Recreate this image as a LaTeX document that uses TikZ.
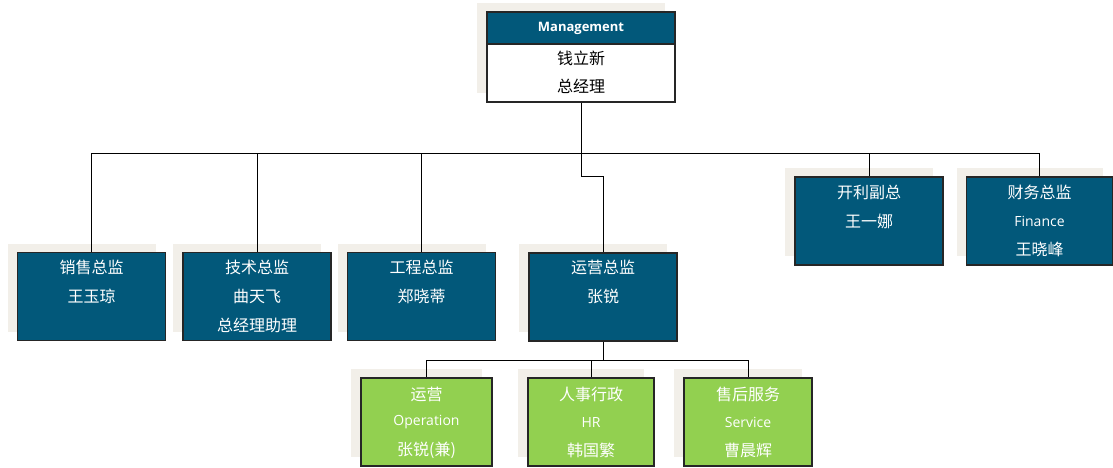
\documentclass[tikz,border=0pt]{standalone}
\usepackage{fontspec}
\setmainfont{Noto Sans CJK SC}
\newfontfamily\latinf{Open Sans}
\usetikzlibrary{shadows}
\definecolor{boxblue}{HTML}{02587A}
\definecolor{boxgreen}{HTML}{92D050}
\definecolor{shadowc}{HTML}{F2EFE9}
\tikzset{
  base/.style={draw=black!85, line width=1.1pt, minimum width=148pt, minimum height=88pt, inner sep=0pt,
    general shadow={fill=shadowc, shadow xshift=-10pt, shadow yshift=9pt}},
  bluebox/.style={base, fill=boxblue},
  greenbox/.style={base, fill=boxgreen},
  cn/.style={text=white, inner sep=0pt, font=\fontsize{16}{16}\selectfont},
  en/.style={text=white, inner sep=0pt, font=\latinf\fontsize{14}{14}\selectfont},
  conn/.style={line width=1pt, black}
}
\begin{document}
\begin{tikzpicture}[x=1pt,y=-1pt]
\useasboundingbox (0,0) rectangle (1113,468);
% top box
\node[base, fill=white, minimum width=188pt, minimum height=90pt] (mgmt) at (581,57) {};
\node[draw=black!85, line width=1.1pt, fill=boxblue, minimum width=188pt, minimum height=32pt, inner sep=0pt,
  text=white, font=\latinf\bfseries\fontsize{13}{13}\selectfont] (mhead) at (581,28) {Management};
\node[inner sep=0pt, font=\fontsize{16}{16}\selectfont] (m1) at (581,58) {钱立新};
\node[inner sep=0pt, font=\fontsize{16}{16}\selectfont] (m2) at (581,86) {总经理};
% row 1
\node[bluebox] (sales) at (91.5,296.5) {};
\node[bluebox] (tech) at (257,296.5) {};
\node[bluebox] (eng) at (421.5,296.5) {};
\node[bluebox] (ops) at (603,297) {};
\node[bluebox] (vp) at (869,221) {};
\node[bluebox, minimum width=146pt] (fin) at (1039.5,221) {};
\node[cn] (t1a) at (91.5,267) {销售总监};
\node[cn] (t1b) at (91.5,296) {王玉琼};
\node[cn] (t2a) at (257,267) {技术总监};
\node[cn] (t2b) at (257,296) {曲天飞};
\node[cn] (t2c) at (257,325) {总经理助理};
\node[cn] (t3a) at (421.5,267) {工程总监};
\node[cn] (t3b) at (421.5,296) {郑晓蒂};
\node[cn] (t4a) at (603,267) {运营总监};
\node[cn] (t4b) at (603,296) {张锐};
\node[cn] (t5a) at (869,192) {开利副总};
\node[cn] (t5b) at (869,221) {王一娜};
\node[cn] (t6a) at (1039.5,192) {财务总监};
\node[en] (t6b) at (1039.5,221) {Finance};
\node[cn] (t6c) at (1039.5,249) {王晓峰};
% green row
\node[greenbox, minimum width=131pt] (g1) at (426.5,422) {};
\node[greenbox, minimum width=126pt] (g2) at (591,422) {};
\node[greenbox, minimum width=128pt] (g3) at (748,422) {};
\node[cn] (g1a) at (426.5,394) {运营};
\node[en] (g1b) at (426.5,422) {Operation};
\node[cn] (g1c) at (426.5,450) {张锐(兼)};
\node[cn] (g2a) at (591,394) {人事行政};
\node[en] (g2b) at (591,422) {HR};
\node[cn] (g2c) at (591,450) {韩国繁};
\node[cn] (g3a) at (748,394) {售后服务};
\node[en] (g3b) at (748,422) {Service};
\node[cn] (g3c) at (748,450) {曹晨辉};
% connectors
\coordinate (bus) at (0,153);
\coordinate (stepc) at (0,176);
\coordinate (gbus) at (0,360);
\draw[conn] (mgmt.south) -- (mgmt.south |- bus) -| (sales.north);
\draw[conn] (mgmt.south |- bus) -| (tech.north);
\draw[conn] (mgmt.south |- bus) -| (eng.north);
\draw[conn] (mgmt.south |- bus) -| (vp.north);
\draw[conn] (mgmt.south |- bus) -| (fin.north);
\draw[conn] (mgmt.south |- bus) -- (mgmt.south |- stepc) -| (ops.north);
\draw[conn] (ops.south) -- (ops.south |- gbus) -| (g1.north);
\draw[conn] (ops.south |- gbus) -| (g2.north);
\draw[conn] (ops.south |- gbus) -| (g3.north);
\end{tikzpicture}
\end{document}
